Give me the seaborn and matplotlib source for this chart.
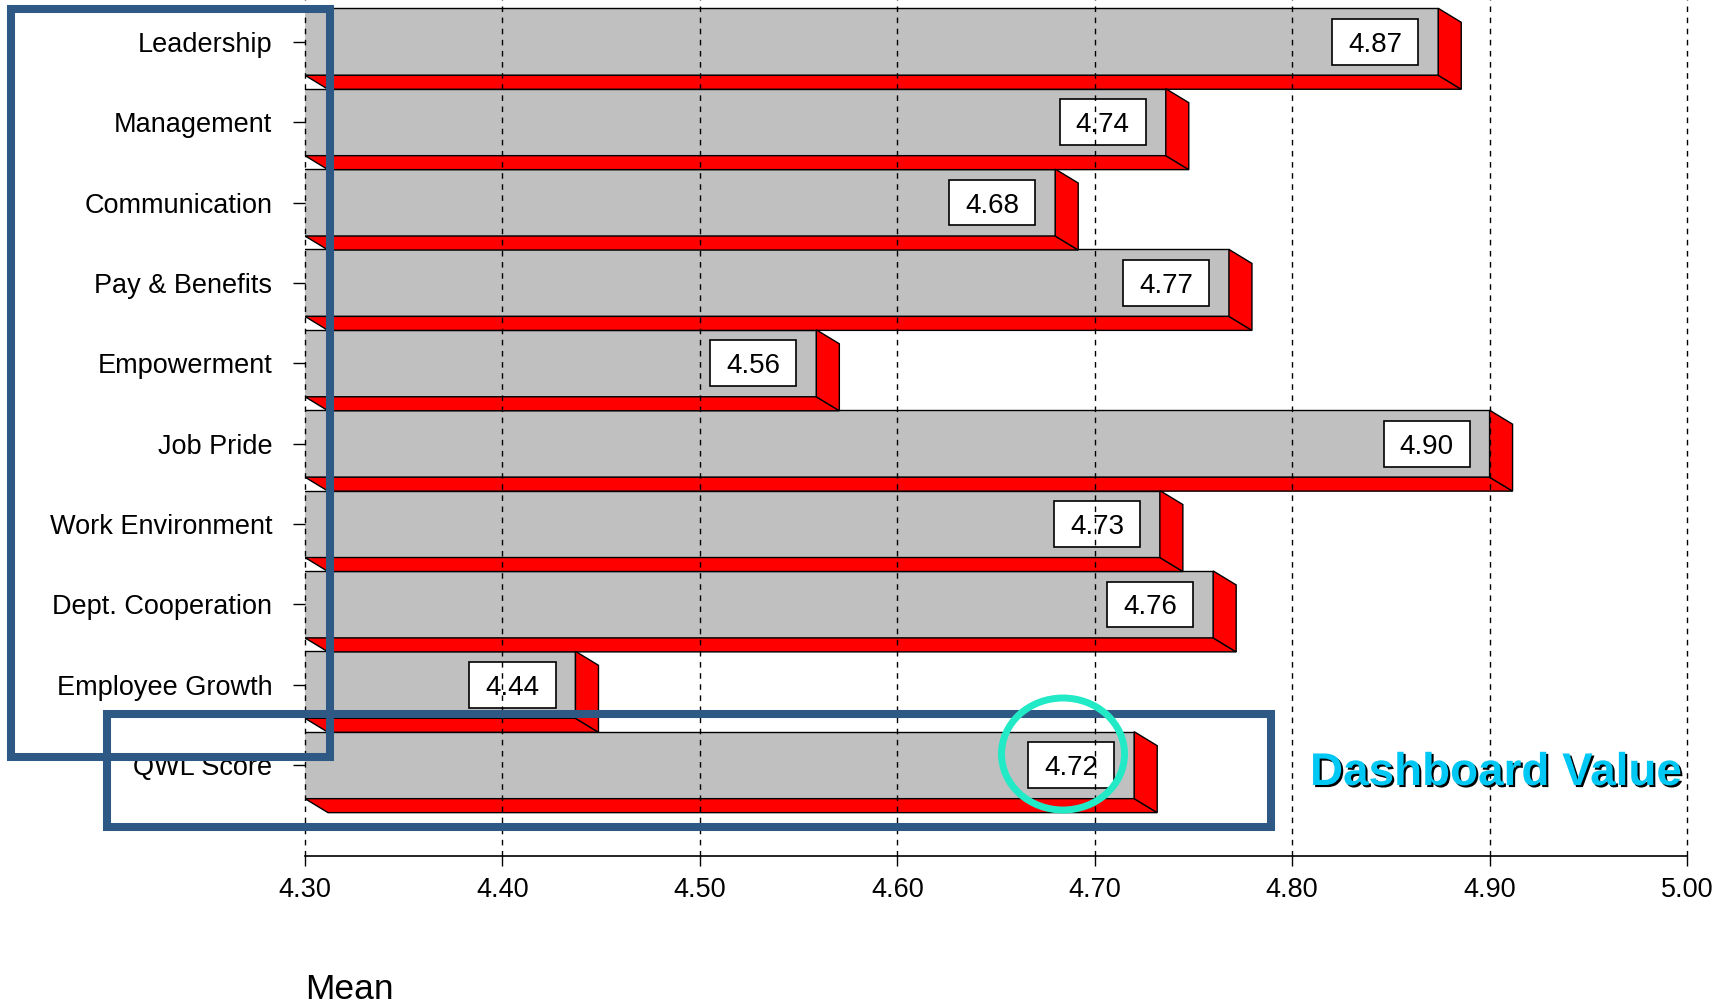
import matplotlib
matplotlib.use("Agg")
import matplotlib.pyplot as plt
import matplotlib.patches as mpatches
import matplotlib.patheffects as pe
import seaborn as sns
import pandas as pd

# ---- data ----
categories = ["Leadership", "Management", "Communication", "Pay & Benefits",
              "Empowerment", "Job Pride", "Work Environment", "Dept. Cooperation",
              "Employee Growth", "QWL Score"]
means = [4.874, 4.736, 4.680, 4.768, 4.559, 4.900, 4.733, 4.760, 4.437, 4.720]
x_ticks = [4.30, 4.40, 4.50, 4.60, 4.70, 4.80, 4.90, 5.00]
x_label = "Mean"
callout_text = "Dashboard Value"

# ---- style ----
sns.set_theme(style="white")
plt.rcParams["font.family"] = ["Liberation Sans", "DejaVu Sans"]
plt.rcParams["text.color"] = "black"
plt.rcParams["axes.labelcolor"] = "black"
plt.rcParams["xtick.color"] = "black"
plt.rcParams["ytick.color"] = "black"

XMIN, XMAX = 4.30, 5.00
BAR_W = 0.833          # front face height (category units)
DEPTH_X = 0.01165      # 3D depth offset (x units)
DEPTH_Y = 0.174        # 3D depth offset (category units)
GRAY = "#C0C0C0"
RED = "#FF0000"
BLUE = "#2E5984"
TEAL = "#22EAC6"
CYAN = "#00C8F5"

df = pd.DataFrame({"category": categories, "mean": means})

W, H = 1728, 1006
fig = plt.figure(figsize=(W / 100, H / 100), dpi=100)
ax = fig.add_axes([305 / W, (H - 856) / H, 1382 / W, 856 / H])

sns.barplot(data=df, x="mean", y="category", orient="h", color=GRAY,
            saturation=1, width=BAR_W, edgecolor="black", linewidth=1.0,
            ax=ax, zorder=1)

ax.set_xlim(XMIN, XMAX)
ax.set_ylim(10.13, -0.52)

# 3D faces and value boxes
for i, v in enumerate(means):
    yt = i - BAR_W / 2
    yb = i + BAR_W / 2
    bottom = mpatches.Polygon([(XMIN, yb), (XMIN + DEPTH_X, yb + DEPTH_Y),
                               (v + DEPTH_X, yb + DEPTH_Y), (v, yb)],
                              closed=True, facecolor=RED, edgecolor="black",
                              linewidth=1.0, zorder=1.2)
    right = mpatches.Polygon([(v, yt), (v + DEPTH_X, yt + DEPTH_Y),
                              (v + DEPTH_X, yb + DEPTH_Y), (v, yb)],
                             closed=True, facecolor=RED, edgecolor="black",
                             linewidth=1.0, zorder=1.2)
    ax.add_patch(bottom)
    ax.add_patch(right)
    # value box
    bw, bh, gap = 0.0436, 0.57, 0.0101
    box = mpatches.Rectangle((v - gap - bw, i - bh / 2), bw, bh,
                             facecolor="white", edgecolor="black",
                             linewidth=1.2, zorder=2)
    ax.add_patch(box)
    ax.text(v - gap - bw / 2, i, f"{v:.2f}", ha="center", va="center_baseline",
            fontsize=20, color="black", zorder=3)

# grid & axes
ax.set_xticks(x_ticks)
ax.set_xticklabels([f"{t:.2f}" for t in x_ticks])
ax.set_axisbelow(False)
ax.grid(axis="x", color="black", linestyle=(0, (4, 4)), linewidth=1.0)
ax.grid(axis="y", visible=False)
for gl in ax.get_xgridlines():
    gl.set_clip_on(False)
for s in ["top", "right", "left"]:
    ax.spines[s].set_visible(False)
ax.spines["bottom"].set_color("black")
ax.spines["bottom"].set_linewidth(1.2)
ax.tick_params(axis="x", direction="out", length=7, width=1, color="black",
               labelsize=19.5, pad=8, bottom=True, labelcolor="black")
ax.tick_params(axis="y", direction="out", length=8.5, width=1, color="black",
               labelsize=19.5, pad=15, left=True, labelcolor="black")
ax.set_ylabel("")
ax.set_xlabel(x_label, fontsize=25.5, loc="left", color="black")
ax.xaxis.label.set_ha("left")
ax.xaxis.label.set_va("baseline")
ax.xaxis.set_label_coords(0.0, -143 / 856)

# ---- overlay annotations (figure pixel coords) ----
def px_rect(x0, y0, x1, y1, color, lw):
    r = mpatches.Rectangle((x0 / W, 1 - y1 / H), (x1 - x0) / W, (y1 - y0) / H,
                           transform=fig.transFigure, fill=False,
                           edgecolor=color, linewidth=lw, zorder=20)
    fig.add_artist(r)

px_rect(11, 9, 330, 757, BLUE, 5.8)
px_rect(107, 714, 1271, 827, BLUE, 5.8)

ell = mpatches.Ellipse((1063 / W, 1 - 754 / H), 123 / W, 112 / H,
                       transform=fig.transFigure, fill=False,
                       edgecolor=TEAL, linewidth=5.0, zorder=21)
fig.add_artist(ell)

fig.text(1310 / W, 1 - 785 / H, callout_text, fontsize=33, fontweight="bold",
         color=CYAN, ha="left", va="baseline", zorder=22,
         path_effects=[pe.withSimplePatchShadow(offset=(1.5, -1.5),
                                                shadow_rgbFace="black",
                                                alpha=1.0)])

fig.savefig("out.png", dpi=100, facecolor="white")
